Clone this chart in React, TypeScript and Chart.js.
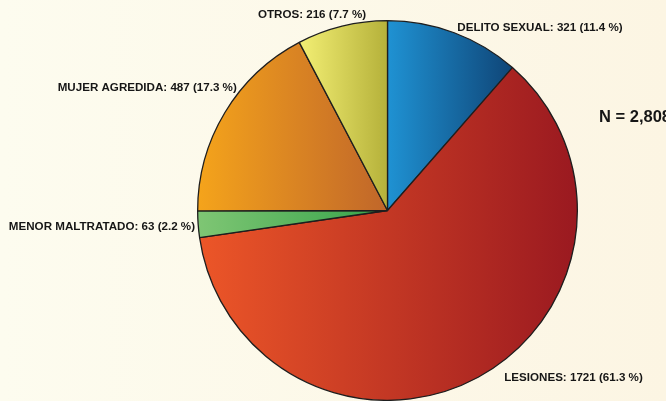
import React, { useEffect, useRef } from "react";
import { Chart, registerables } from "chart.js";

Chart.register(...registerables);

const categories = ["DELITO SEXUAL", "LESIONES", "MENOR MALTRATADO", "MUJER AGREDIDA", "OTROS"];
const counts = [321, 1721, 63, 487, 216];
const percents = ["11.4", "61.3", "2.2", "17.3", "7.7"];
const totalLabel = "N = 2,808";

// gradient colors per slice: [left, right]
const gradientStops = [
  ["#1f92d3", "#0f4577"],
  ["#ec5628", "#9a1920"],
  ["#7fc674", "#36a34a"],
  ["#f5a41b", "#c0662a"],
  ["#f3ef74", "#b5b13a"],
];

// label layout relative to arc mid point on outer edge
const labelLayout = [
  { align: "left", dx: 3, dy: -5 },
  { align: "left", dx: 26, dy: 0 },
  { align: "right", dx: -3, dy: 2 },
  { align: "right", dx: 12, dy: -25 },
  { align: "center", dx: -30, dy: -11 },
];

function arcGeometry(chart: any, index: number) {
  const area = chart.chartArea;
  if (!area) return null;
  const cx = (area.left + area.right) / 2;
  const cy = (area.top + area.bottom) / 2;
  const r = Math.min(area.right - area.left, area.bottom - area.top) / 2 - 0.5;
  const total = counts.reduce((a, b) => a + b, 0);
  let cum = 0;
  for (let i = 0; i < index; i++) cum += counts[i];
  const a0 = -Math.PI / 2 + (2 * Math.PI * cum) / total;
  const a1 = a0 + (2 * Math.PI * counts[index]) / total;
  return { cx, cy, r, a0, a1 };
}

function gradientFor(ctx: any) {
  const chart = ctx.chart;
  const i = ctx.dataIndex;
  const g = arcGeometry(chart, i);
  if (!g) return gradientStops[i][0];
  const xs = [g.cx, g.cx + g.r * Math.cos(g.a0), g.cx + g.r * Math.cos(g.a1)];
  for (let k = -2; k <= 3; k++) {
    const ang = k * Math.PI;
    if (ang > g.a0 && ang < g.a1) xs.push(g.cx + g.r * Math.cos(ang));
  }
  const minX = Math.min(...xs);
  const maxX = Math.max(...xs);
  const grad = chart.ctx.createLinearGradient(minX, 0, maxX, 0);
  grad.addColorStop(0, gradientStops[i][0]);
  grad.addColorStop(1, gradientStops[i][1]);
  return grad;
}

const labelPlugin = {
  id: "outsideLabels",
  afterDraw(chart: any) {
    const c = chart.ctx;
    c.save();
    c.fillStyle = "#161616";
    c.font = "bold 11.6px 'Liberation Sans', Arial, sans-serif";
    c.textBaseline = "middle";
    for (let i = 0; i < categories.length; i++) {
      const g = arcGeometry(chart, i);
      if (!g) continue;
      const mid = (g.a0 + g.a1) / 2;
      const x = g.cx + g.r * Math.cos(mid) + labelLayout[i].dx;
      const y = g.cy + g.r * Math.sin(mid) + labelLayout[i].dy;
      c.textAlign = labelLayout[i].align as CanvasTextAlign;
      c.fillText(`${categories[i]}: ${counts[i]} (${percents[i]} %)`, x, y);
    }
    c.font = "bold 16.5px 'Liberation Sans', Arial, sans-serif";
    c.textAlign = "left";
    c.fillText(totalLabel, chart.chartArea.right + 21, 117);
    c.restore();
  },
};

export default function App() {
  const ref = useRef<HTMLCanvasElement>(null);
  useEffect(() => {
    document.body.style.margin = "0";
    const chart = new Chart(ref.current!, {
      type: "pie",
      data: {
        labels: categories,
        datasets: [
          {
            data: counts,
            backgroundColor: gradientFor as any,
            borderColor: "#1e1e1e",
            borderWidth: 1.3,
          },
        ],
      },
      options: {
        responsive: false,
        animation: false,
        layout: { padding: { top: 20, bottom: 0, left: 197, right: 88 } },
        plugins: {
          legend: { display: false },
          tooltip: { enabled: false },
        },
      },
      plugins: [labelPlugin],
    });
    return () => chart.destroy();
  }, []);
  return (
    <div
      style={{
        position: "fixed",
        left: 0,
        top: 0,
        width: 666,
        height: 401,
        background: "linear-gradient(to right, #fdfcef, #fcf5e3)",
      }}
    >
      <canvas ref={ref} width={666} height={401} />
    </div>
  );
}
